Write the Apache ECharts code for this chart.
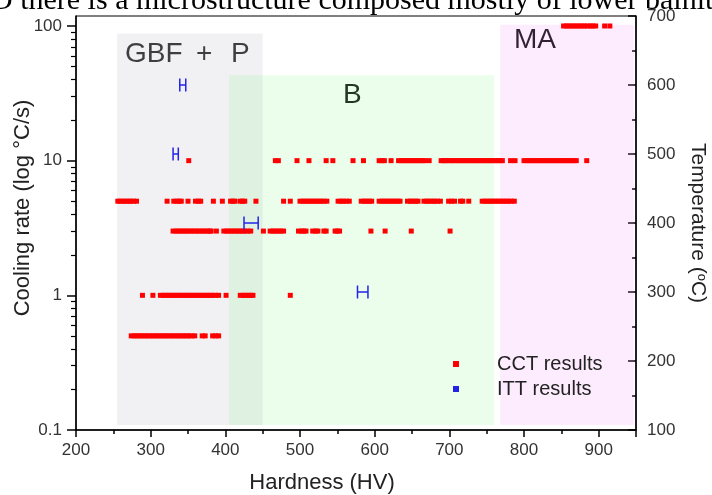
<!DOCTYPE html>
<html>
<head>
<meta charset="utf-8">
<script src="https://cdn.jsdelivr.net/npm/echarts@6/dist/echarts.min.js"></script>
<style>
  html, body { margin: 0; padding: 0; background: #fff; }
  #chart { width: 712px; height: 495px; }
</style>
</head>
<body>
<div id="chart"></div>
<script>
// Cooling rates (°C/s) of the CCT rows, top to bottom
const rateLevels = [100, 10, 5, 3, 1, 0.5];

// Hardness (HV) of every CCT result along each cooling-rate row
const hvRate100 = [853, 857, 860, 864, 867, 871, 874, 878, 881, 885, 889, 892, 896, 908, 915];
const hvRate10 = [351, 467, 471, 496, 512, 535, 544, 571, 585, 606, 610, 613, 622, 632, 636, 639, 643,
  646, 650, 653, 657, 660, 664, 667, 673, 689, 692, 695, 698, 702, 705, 709, 712, 716, 719, 723, 726,
  730, 733, 737, 740, 744, 747, 751, 754, 758, 761, 765, 768, 771, 782, 788, 800, 804, 807, 811, 814,
  818, 821, 825, 828, 832, 835, 839, 842, 846, 849, 853, 856, 860, 863, 867, 870, 884];
const hvRate5 = [256, 259, 263, 266, 270, 273, 277, 281, 322, 331, 335, 338, 341, 350, 360, 364, 367,
  384, 396, 407, 410, 413, 420, 423, 426, 441, 478, 487, 500, 504, 507, 511, 514, 518, 521, 525, 528,
  532, 536, 551, 555, 558, 562, 566, 582, 586, 589, 593, 596, 606, 610, 613, 617, 620, 624, 627, 631,
  634, 644, 648, 651, 655, 658, 666, 670, 673, 677, 680, 684, 688, 699, 703, 707, 715, 718, 726, 744,
  748, 751, 755, 758, 762, 765, 769, 772, 776, 779, 783, 787];
const hvRate3 = [330, 334, 337, 341, 344, 348, 351, 355, 358, 362, 365, 369, 372, 376, 379, 381, 388,
  398, 402, 405, 409, 412, 416, 419, 423, 426, 430, 434, 451, 460, 464, 467, 471, 474, 478, 498, 502,
  505, 508, 517, 521, 524, 532, 535, 547, 550, 553, 595, 614, 649, 701];
const hvRate1 = [289, 303, 313, 317, 320, 324, 327, 331, 334, 338, 341, 345, 348, 352, 355, 359, 362,
  366, 369, 373, 376, 380, 383, 387, 391, 401, 420, 424, 427, 431, 434, 437, 487];
const hvRate05 = [274, 278, 281, 285, 288, 292, 295, 299, 302, 306, 309, 313, 316, 320, 323, 327, 330,
  334, 337, 341, 344, 348, 351, 355, 359, 369, 373, 383, 387, 391];

// ITT results: holding temperature (°C) and the hardness range measured
const ittTemperature = [600, 500, 400, 300];
const ittHvLow = [339, 330, 425, 577];
const ittHvHigh = [347, 337, 444, 591];

// Microstructure fields: hardness span and cooling-rate span
const fieldNames = ['GBF + P', 'B', 'MA'];
const fieldHvStart = [255, 405, 768];
const fieldHvEnd = [450, 760, 947];
const fieldRateLow = [0.109, 0.109, 0.109];
const fieldRateHigh = [88, 43, 102];

// Axis ticks
const rateMajorTicks = [0.1, 1, 10, 100];
const rateMinorTicks = [0.2, 0.3, 0.4, 0.5, 0.6, 0.7, 0.8, 0.9, 2, 3, 4, 5, 6, 7, 8, 9,
  20, 30, 40, 50, 60, 70, 80, 90];

const sans = '"Liberation Sans", Arial, sans-serif';
const cctColor = '#ff0000';
const ittColor = '#2323e8';
const fieldColors = ['rgba(200,200,206,0.25)', 'rgba(130,240,130,0.16)', 'rgba(240,130,240,0.15)'];

const cctRows = [hvRate100, hvRate10, hvRate5, hvRate3, hvRate1, hvRate05];
const cctData = [];
rateLevels.forEach((rate, i) => cctRows[i].forEach(hv => cctData.push([hv, rate])));
const ittData = ittTemperature.map((t, i) => [ittHvLow[i], ittHvHigh[i], t]);

const fieldAreas = fieldNames.map((name, i) => [
  { name: name, xAxis: fieldHvStart[i], yAxis: fieldRateLow[i], itemStyle: { color: fieldColors[i] } },
  { xAxis: fieldHvEnd[i], yAxis: fieldRateHigh[i] }
]);

const rateMin = 0.1, rateMax = 118.6;
const fieldFont = '28px ' + sans;

const chart = echarts.init(document.getElementById('chart'));
chart.setOption({
  animation: false,
  textStyle: { fontFamily: sans },
  grid: {
    left: 76, right: 76, top: 16, bottom: 65, outerBoundsMode: 'none',
    show: true, borderColor: '#000', borderWidth: 1, backgroundColor: 'transparent'
  },
  xAxis: {
    type: 'value', min: 200, max: 950, interval: 100,
    name: 'Hardness (HV)', nameLocation: 'middle', nameGap: 42, nameMoveOverlap: false,
    nameTextStyle: { fontSize: 22, color: '#222', fontFamily: sans, padding: [0, 68, 0, 0] },
    axisLine: { lineStyle: { color: '#000', width: 1.5 } },
    axisTick: { length: 7, lineStyle: { color: '#000', width: 1.5 } },
    minorTick: { show: true, splitNumber: 2, length: 4, lineStyle: { color: '#000', width: 1.5 } },
    axisLabel: { fontSize: 17, color: '#333', margin: 12, showMaxLabel: false },
    splitLine: { show: false }
  },
  yAxis: [
    {
      type: 'log', logBase: 10, min: rateMin, max: rateMax, position: 'left',
      name: 'Cooling rate (log \u00B0C/s)', nameLocation: 'middle', nameGap: 42, nameMoveOverlap: false,
      nameTextStyle: { fontSize: 22, color: '#222', fontFamily: sans, padding: [0, 0, 0, 30] },
      axisLine: { show: true, lineStyle: { color: '#000', width: 1.5 } },
      axisTick: { show: true, length: 9, customValues: rateMajorTicks, lineStyle: { color: '#000', width: 1.5 } },
      axisLabel: { fontSize: 17, color: '#333', margin: 14, customValues: rateMajorTicks },
      splitLine: { show: false }
    },
    {
      type: 'value', min: 100, max: 700, interval: 100, position: 'right',
      name: 'Temperature ({sup|o}C)', nameLocation: 'middle', nameGap: 51, nameRotate: -90, nameMoveOverlap: false,
      nameTextStyle: { fontSize: 21, color: '#222', fontFamily: sans, rich: { sup: { fontSize: 13, verticalAlign: 'top', padding: [0, 0, 8, 0], color: '#222' } } },
      axisLine: { show: true, lineStyle: { color: '#000', width: 1.5 } },
      axisTick: { inside: true, length: 8, lineStyle: { color: '#000', width: 1.5 } },
      minorTick: { show: true, splitNumber: 2, length: 4, lineStyle: { color: '#000', width: 1.5 } },
      axisLabel: { fontSize: 17, color: '#333', margin: 11 },
      splitLine: { show: false }
    },
    {
      type: 'log', logBase: 10, min: rateMin, max: rateMax, position: 'left',
      axisLine: { show: false },
      axisTick: { show: true, length: 5, customValues: rateMinorTicks, lineStyle: { color: '#000', width: 1.2 } },
      axisLabel: { show: false },
      splitLine: { show: false }
    }
  ],
  legend: {
    orient: 'vertical', left: 453, top: 354, itemGap: 5, itemWidth: 6, itemHeight: 6,
    selectedMode: false, padding: 0, icon: 'rect',
    data: ['CCT results', 'ITT results'],
    textStyle: { fontSize: 20, color: '#222', fontFamily: sans, padding: [0, 0, 0, 33] }
  },
  graphic: [
    { type: 'text', left: 125, top: 40, style: { text: 'GBF', font: fieldFont, fill: '#111' } },
    { type: 'text', left: 196, top: 40, style: { text: '+', font: fieldFont, fill: '#111' } },
    { type: 'text', left: 231, top: 40, style: { text: 'P', font: fieldFont, fill: '#111' } },
    { type: 'text', left: 343, top: 81, style: { text: 'B', font: fieldFont, fill: '#111' } },
    { type: 'text', left: 514, top: 26, style: { text: 'MA', font: fieldFont, fill: '#111' } },
    { type: 'text', x: -9, y: 1, style: { text: 'D there is a microstructure composed mostly of lower bainite', font: '30px "Liberation Serif", "Times New Roman", serif', fill: '#000', verticalAlign: 'middle' } }
  ],
  series: [
    {
      name: 'fields', type: 'scatter', data: [], z: 1, silent: true,
      markArea: { silent: true, label: { show: false }, data: fieldAreas }
    },
    {
      name: 'CCT results', type: 'scatter', data: cctData, z: 3,
      symbol: 'rect', symbolSize: 5, itemStyle: { color: cctColor, opacity: 1 }
    },
    {
      name: 'ITT results', type: 'custom', yAxisIndex: 1, z: 4, data: ittData,
      itemStyle: { color: ittColor },
      encode: { x: [0, 1], y: 2 },
      renderItem: function (params, api) {
        const lo = api.coord([api.value(0), api.value(2)]);
        const hi = api.coord([api.value(1), api.value(2)]);
        const half = 6.5;
        const style = { stroke: ittColor, lineWidth: 1.5, fill: null };
        return {
          type: 'group',
          children: [
            { type: 'line', shape: { x1: lo[0], y1: lo[1], x2: hi[0], y2: hi[1] }, style: style },
            { type: 'line', shape: { x1: lo[0], y1: lo[1] - half, x2: lo[0], y2: lo[1] + half }, style: style },
            { type: 'line', shape: { x1: hi[0], y1: hi[1] - half, x2: hi[0], y2: hi[1] + half }, style: style }
          ]
        };
      }
    }
  ]
});
</script>
</body>
</html>
